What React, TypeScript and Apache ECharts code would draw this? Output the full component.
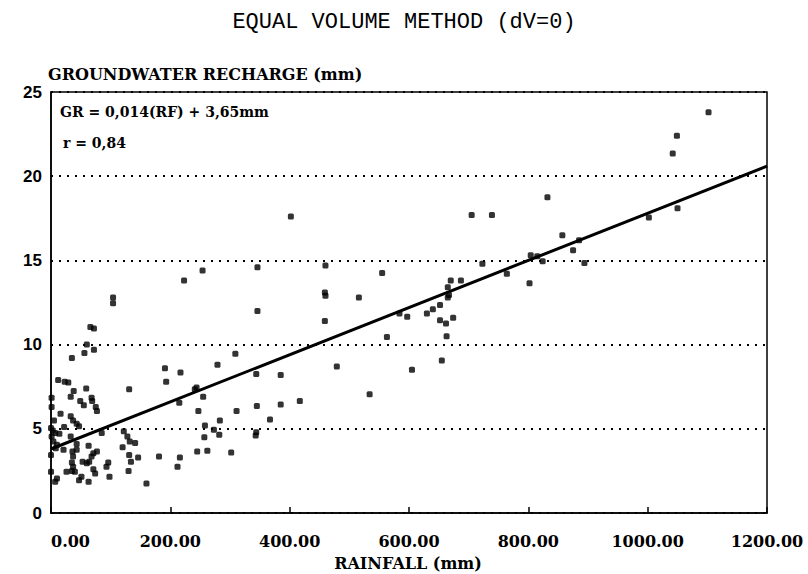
import React, { useEffect, useRef } from "react";
import * as echarts from "echarts";

const rainfall = [
  254, 223, 346, 346, 460, 459, 460, 459, 479, 191, 193, 217, 279, 309, 241, 244, 215, 255, 344, 385,
  247, 283, 311, 345, 385, 417, 367, 258, 273, 282, 257, 344, 343, 245, 262, 302, 181, 216, 212,
  705, 739, 555, 516, 723, 764, 802, 670, 687, 665, 667, 665, 584, 597, 630, 640, 652, 652, 662, 674,
  563, 663, 605, 655, 534,
  832, 857, 885, 875, 894, 1002, 1050, 804, 815, 824, 1102, 1049, 1042, 402,
  104, 104, 66, 72, 60, 72, 56, 35, 12, 23, 29, 59, 131, 38, 33, 68, 69, 49, 55, 1, 1, 75, 77, 16, 5,
  33, 37, 43, 47, 22, 0, 3, 7, 14, 1, 33, 85, 122, 128, 132, 141, 4, 10, 8, 21, 43, 43, 63, 120, 0,
  36, 37, 71, 77, 68, 53, 60, 64, 35, 37, 96, 93, 131, 134, 146, 130, 0, 26, 35, 40, 71, 74, 47, 51,
  63, 98, 160, 7, 10,
];

const recharge = [
  14.4, 13.8, 14.6, 12.0, 14.7, 13.1, 12.9, 11.4, 8.7, 8.6, 7.8, 8.35, 8.8, 9.45, 7.35, 7.45, 6.55, 6.9, 8.25, 8.2,
  6.05, 5.5, 6.05, 6.35, 6.45, 6.65, 5.55, 5.2, 4.95, 4.65, 4.5, 4.8, 4.6, 3.65, 3.7, 3.6, 3.35, 3.3, 2.75,
  17.7, 17.7, 14.25, 12.8, 14.8, 14.2, 13.65, 13.8, 13.8, 13.4, 12.95, 12.8, 11.85, 11.65, 11.85, 12.1, 12.35, 11.45, 11.25, 11.6,
  10.45, 10.5, 8.5, 9.05, 7.05,
  18.75, 16.5, 16.2, 15.6, 14.85, 17.55, 18.1, 15.3, 15.25, 14.95, 23.8, 22.4, 21.35, 17.6,
  12.8, 12.45, 11.05, 10.95, 10.0, 9.7, 9.5, 9.2, 7.9, 7.8, 7.75, 7.4, 7.35, 7.25, 6.9, 6.85, 6.65, 6.65, 6.4, 6.85, 6.3, 6.3, 6.05, 5.9, 5.5,
  5.75, 5.5, 5.3, 5.15, 5.1, 5.05, 4.9, 4.75, 4.7, 4.55, 4.55, 4.75, 4.85, 4.55, 4.25, 4.15, 4.25, 4.05, 3.85, 3.75, 4.1, 3.75, 4.0, 3.9, 3.45,
  3.65, 3.35, 3.55, 3.65, 3.35, 3.05, 2.95, 3.05, 3.0, 2.75, 3.0, 2.75, 3.45, 3.05, 3.3, 2.5, 2.45, 2.45, 2.5, 2.45, 2.6, 2.35, 1.95, 2.15,
  1.85, 2.15, 1.75, 1.85, 2.05,
];

const trendRainfall = [0, 1200];
const trendRecharge = [3.8, 20.6];

const yTicks = [0, 5, 10, 15, 20, 25];

const title = "EQUAL VOLUME METHOD (dV=0)";
const yName = "GROUNDWATER RECHARGE (mm)";
const xName = "RAINFALL (mm)";
const equation = "GR = 0,014(RF) + 3,65mm";
const corr = "r = 0,84";

export default function App() {
  const ref = useRef<HTMLDivElement>(null);

  useEffect(() => {
    if (!ref.current) return;
    const chart = echarts.init(ref.current, null, { renderer: "svg" });
    const points = rainfall.map((r, i) => [r, recharge[i]]);
    const trend = trendRainfall.map((r, i) => [r, trendRecharge[i]]);
    const ink = "#000";
    const serif = '"DejaVu Serif"';
    chart.setOption({
      animation: false,
      backgroundColor: "#fff",
      grid: {
        left: 51,
        right: 41,
        top: 92,
        bottom: 61,
        show: true,
        borderColor: ink,
        borderWidth: 1.5,
      },
      xAxis: {
        type: "value",
        min: 0,
        max: 1200,
        interval: 200,
        axisLine: { show: true, lineStyle: { color: ink, width: 1.5 } },
        axisTick: { show: true, inside: true, length: 6, lineStyle: { color: ink, width: 1.5 } },
        axisLabel: {
          formatter: (v: number) => v.toFixed(2),
          color: ink,
          fontFamily: "DejaVu Serif",
          fontWeight: "bold",
          fontSize: 16,
          margin: 20,
          showMinLabel: true,
          showMaxLabel: true,
          alignMinLabel: "left",
        },
        splitLine: { show: false },
      },
      yAxis: {
        type: "value",
        min: yTicks[0],
        max: yTicks[yTicks.length - 1],
        interval: 5,
        axisLine: { show: true, lineStyle: { color: ink, width: 1.5 } },
        axisTick: { show: false },
        axisLabel: {
          color: ink,
          fontFamily: "Liberation Sans",
          fontWeight: "bold",
          fontSize: 17,
          margin: 9,
        },
        splitLine: { show: true, lineStyle: { color: ink, width: 2, type: [2, 6] } },
      },
      series: [
        {
          type: "scatter",
          data: points,
          symbol: "roundRect",
          symbolSize: 6,
          itemStyle: { color: ink },
        },
        {
          type: "line",
          data: trend,
          showSymbol: false,
          lineStyle: { color: ink, width: 3 },
        },
      ],
      graphic: [
        {
          type: "text",
          x: 404,
          y: 22,
          style: {
            text: title,
            font: '22px "Liberation Mono"',
            fill: ink,
            textAlign: "center",
            textVerticalAlign: "middle",
          },
        },
        {
          type: "text",
          x: 48,
          y: 74,
          style: {
            text: yName,
            font: `bold 16px ${serif}`,
            fill: ink,
            textAlign: "left",
            textVerticalAlign: "middle",
          },
        },
        {
          type: "text",
          x: 60,
          y: 112,
          style: {
            text: equation,
            font: `bold 14px ${serif}`,
            fill: ink,
            textAlign: "left",
            textVerticalAlign: "middle",
          },
        },
        {
          type: "text",
          x: 63,
          y: 143,
          style: {
            text: corr,
            font: `bold 14px ${serif}`,
            fill: ink,
            textAlign: "left",
            textVerticalAlign: "middle",
          },
        },
        {
          type: "text",
          x: 408,
          y: 563,
          style: {
            text: xName,
            font: `bold 16px ${serif}`,
            fill: ink,
            textAlign: "center",
            textVerticalAlign: "middle",
          },
        },
      ],
    });
    return () => chart.dispose();
  }, []);

  return (
    <div
      ref={ref}
      style={{ position: "fixed", left: 0, top: 0, width: 808, height: 574, background: "#fff" }}
    />
  );
}
